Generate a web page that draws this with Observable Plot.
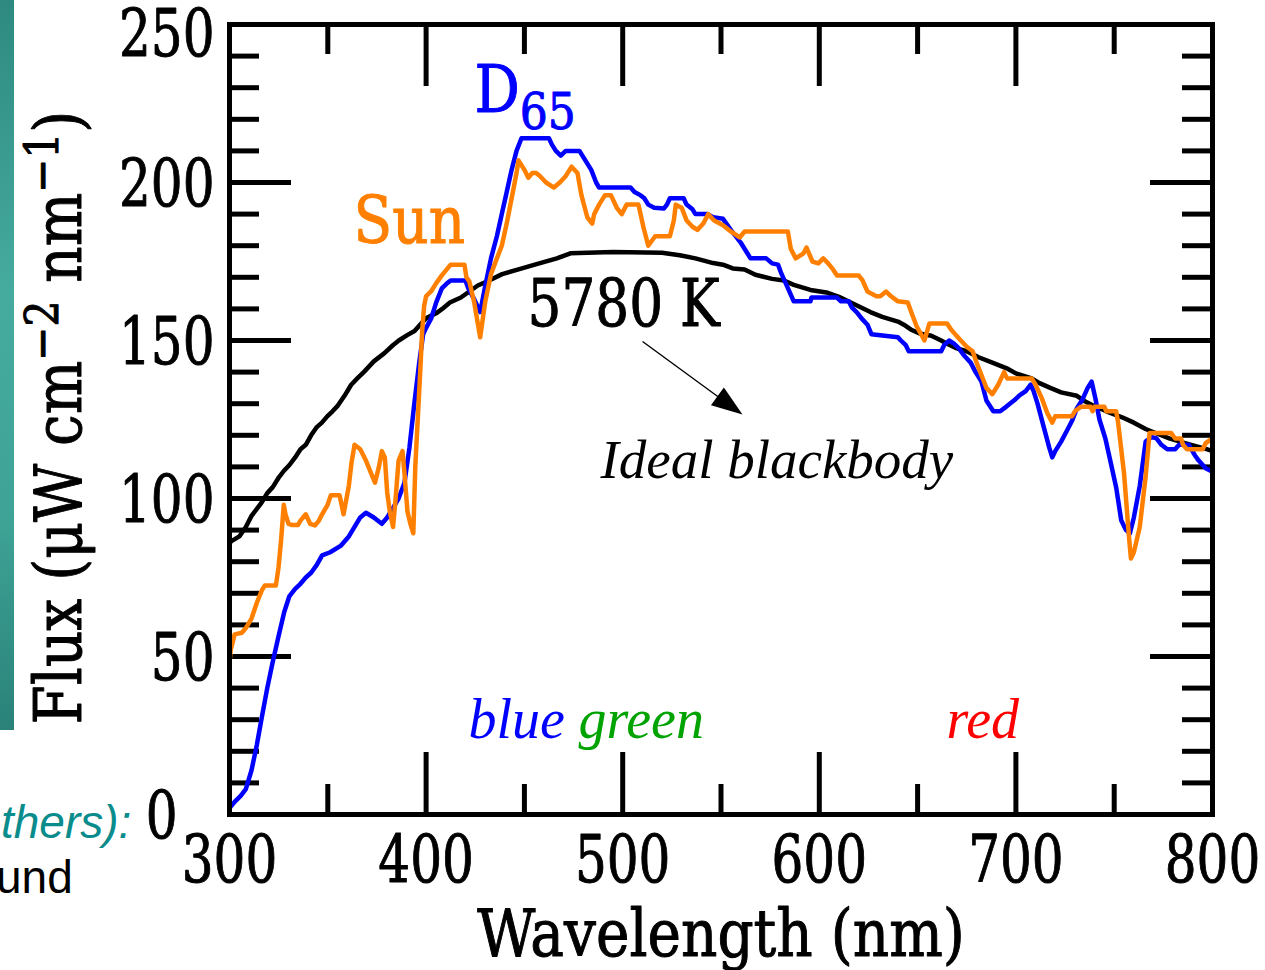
<!DOCTYPE html>
<html>
<head>
<meta charset="utf-8">
<script src="https://cdn.jsdelivr.net/npm/d3@7"></script>
<script src="https://cdn.jsdelivr.net/npm/@observablehq/plot@0.6"></script>
<style>
html, body { margin: 0; padding: 0; background: #fff; width: 1265px; height: 970px; overflow: hidden; }
#wrap { position: relative; width: 1265px; height: 970px; }
#strip { position: absolute; left: 0; top: 0; width: 14px; height: 730px; z-index: 2;
  background: linear-gradient(to bottom, #2e8a80 0%, #46ab9f 40%, #3fa497 70%, #2a8279 100%); }
.slide { position: absolute; font-family: "Liberation Sans", Arial, sans-serif; font-size: 46px;
  line-height: 1; white-space: nowrap; z-index: 2; }
#chart { position: absolute; left: 0; top: 0; }
</style>
</head>
<body>
<div id="wrap">
  <div id="chart"></div>
  <div id="strip"></div>
  <div class="slide" style="left:1px; top:799px; color:#0a8c8c; font-style:italic;">thers):</div>
  <div class="slide" style="left:-4px; top:854px; color:#000;">und</div>
</div>
<script>
// ---------------- data ----------------
const d65Wavelength = [300,302.6,305.8,308.3,311.2,313.9,316.5,319.2,321.9,324.8,327.8,330.4,333.4,336.1,338.8,341.5,344.4,347.1,351.2,356.5,360.7,363.6,366.5,369.4,373.4,377.5,380.2,383.2,386,389,391.5,394,396.5,398.5,400,402.6,405.1,408,410.5,412.5,420,421.5,424.5,427.5,430,433,436,438.5,441,443.5,446,448.5,462.5,464,466,468.5,471,478,481,484,486.5,488,504,506,509,511,513,516,521,522.5,524,531,532.5,535.5,537,543,546,551,555,560,563,565,573,576,579,580.5,583,585.5,587,595.5,596,609,611,615,616.5,619,621.5,624.5,626.5,640,641.5,644,645.5,662,663.5,666,668.5,671,674,677,679.5,682.5,685,688.5,692,695,699,702,705,707.5,709,711,714,717,718.5,720,723,726,728.5,731,734,736.5,738.5,740.5,742.5,745.5,748,751,753.6,756,758,760,763,766,769,771.5,774,777,781,783,788,791,793,796.5,800];
const d65Flux = [2,4,6,8,14,22,31,40,48,56,64,69,71.4,73,75,76.5,79,82,83,85,88,91,94,95.5,94,92,94,97,100,105,116,130,143,152,154,157,162,166.5,168,169,169,166.5,163,159,167,176,183,190,197,204,210,214,214,212,210,208.5,210,210,207,204,200,198.4,198.4,197,196,195,193,192,191.8,193,195,195,193,191.5,190,190,189,188.5,185,181,178,176,176,174.4,174,171.5,168,164.5,162.4,162.4,163.6,163.6,162.4,162.4,160.5,159,157,155,152,151,150,148.5,146.6,146.6,148.5,150,149,147.5,145,143,140,137,131,127.6,127.6,129,131,132.7,134,136,134,130,123,116,113,115,118,121.5,124.5,128.5,131.5,135,137,131.5,125,119,112,103.5,93,90,89,94,104,118,119.5,119,117,115.6,115.6,117,117,113.7,112,109.6,108.5];

const sunWavelength = [300,300.6,302.6,306.3,308.3,311.2,313.9,316.5,318,323.6,324.9,326.2,327.6,328.5,330,332,334.8,336.1,338.8,341,343.5,345.5,347.1,349.9,351.5,356,358,360.7,362,363.6,366.5,369.4,372,374,376,377.5,379,380.2,381.5,383.2,384.5,386,388,389,390.5,392,393.5,394.5,395.5,397,398,399,400,402.6,405,408,410.5,412.5,419.5,420.5,422,424.5,427.5,430,433,436,438.5,441,443.5,446,447,450,452,454,456,458,461,465,468,471,474,477,479,482,484.5,485.5,488,491,494,497,499.5,502,508,510.5,513,516.5,524,526,527,530,532.5,535.5,538,541,543.5,546.5,551,555,559.5,562,584,585.5,588,592,593.5,596.5,599.5,602,604.5,607,609,620,622,624.5,629,631,634,636.5,640,645,647,649.5,653.5,656,665,667,669.5,672,675,678,680,682.5,685,688,691,694,695.5,708,710,713,716,718.5,720,728.5,730,733,738,739,740,745,746,751,752,755,757.5,758.5,760,763,766,768,779,781,784,785,787,795,796.5,800];
const sunFlux = [48,52,57,57.5,59,62,67,71,72.5,72.5,78,86.5,98,95,92,91.6,91.6,93,95,92,91.5,93,95,98,101,101,95,104,111,117,115.6,112,108,105,110,115,113,102,96,91,100,112,115,108,96,92,89,110,122,140,153,161,164,165.6,168,170.6,172.5,174,174,170,168.7,162,151,162,171,176,180,187,195,203,207,204,201.5,203,203,202,200,198.4,200,202,205,203,196,189,187,190,193,196,196,192,190,193,193,186,180,183,183,188,193,192,188,186,185,187,190,188,186.5,184.5,182.6,184.5,184.5,179,176,177.6,179.4,175,174.4,176,174.4,172.5,170.6,170.6,169,165.5,164,164,165.5,164,162.4,162,158.6,154.5,150,155.4,155.4,153.5,151.7,150,148,146.6,143,139,135,133,136,140,138,138,136,132,127,124,126,126,127.6,129,129,127.6,129,129,127.6,127.6,124,108,88,81,83,91,107,120.7,120.7,119,119,117,115.6,115.6,117.5,119];

const bbWavelength = [300,301,305,308.3,311.2,313.9,316.4,319.2,322,324.9,327.6,330.5,333.4,336.1,338.8,341.5,344.4,347,349.7,352.4,355.1,358.5,361.9,365,368.3,373.4,378.8,383.1,386.1,390.4,394.1,399.9,405.1,408.2,412.1,417.7,422,426.3,432,438.7,447,455.3,466.5,473.4,495,520,529,537,546,551,556,562,567.5,576,582,587,595.5,603.6,610,616,621,626,632,640,643,646.5,651,657,662,665,670,675,681,688,696,700,708,712,717.5,723,731,735,739,746,754,760,766,772,778,786,797,800];
const bbFlux = [86,86.5,88,91,94.5,96.7,98.8,101.7,103.6,106.5,108.7,110.6,113,115.6,117,120,122.6,124,126,127.6,129.4,132.5,136,138,140,143.4,146,148.5,150,151.7,153,157,158.6,160,162,163.6,165.5,167.4,169,171,172.5,174,176,177.6,178,177.8,177,176,174.5,174,172.8,172.5,170.8,169.5,169,167.6,166,165.2,163.8,162,160.5,159,157.5,156,155,153.5,152.2,151.5,150,149,147.5,146.6,144.7,143,141,139.6,138,136.5,135,133.6,132.5,130.8,129.5,127.6,125.7,124,122,120.5,119,117.5,115.6,115];

const xTickLabels = [300, 400, 500, 600, 700, 800];
const xMinorTicks = [350, 450, 550, 650, 750];
const yTickLabels = [0, 50, 100, 150, 200, 250];
const yMinorTicks = [10,20,30,40,60,70,80,90,110,120,130,140,160,170,180,190,210,220,230,240];
const colorLabels = ["blue", "green", "red"];
const colorLabelWavelength = [421.6, 477.5, 664.7];
const colorLabelFill = ["#0000ff", "#00a300", "#ff0000"];

// ---------------- layout ----------------
const W = 1265, H = 970, ML = 229, MR = 53, MT = 24, MB = 156;
const innerW = W - ML - MR, innerH = H - MT - MB;
const majorLen = 62, minorLen = 30;
const DIGIT_CONDENSE = 0.77, WORD_CONDENSE = 0.87;
const pix = {fontFamily: "DejaVu Serif", fontSize: 65, fill: "black", stroke: "black", strokeWidth: 1};
const serifIt = {fontFamily: "Liberation Serif", fontStyle: "italic"};

const rows = (xs, ys) => xs.map((w, i) => ({w, f: ys[i]}));
const d65 = rows(d65Wavelength, d65Flux);
const sun = rows(sunWavelength, sunFlux);
const bb = rows(bbWavelength, bbFlux);
const colorRows = colorLabels.map((t, i) => ({t, w: colorLabelWavelength[i], c: colorLabelFill[i]}));

// filled, elongated arrow head (pointing up before rotation)
const arrowHead = {draw(ctx) { ctx.moveTo(0, -20); ctx.lineTo(11, 11); ctx.lineTo(-11, 11); ctx.closePath(); }};

const svg = Plot.plot({
  width: W, height: H,
  marginLeft: ML, marginRight: MR, marginTop: MT, marginBottom: MB,
  x: {domain: [300, 800], axis: null},
  y: {domain: [0, 250], axis: null},
  style: {background: "transparent", overflow: "visible"},
  marks: [
    // inward ticks on all four sides
    Plot.tickY(yTickLabels, {y: d => d, insetRight: innerW - majorLen, strokeWidth: 5}),
    Plot.tickY(yTickLabels, {y: d => d, insetLeft: innerW - majorLen, strokeWidth: 5}),
    Plot.tickY(yMinorTicks, {y: d => d, insetRight: innerW - minorLen, strokeWidth: 5}),
    Plot.tickY(yMinorTicks, {y: d => d, insetLeft: innerW - minorLen, strokeWidth: 5}),
    Plot.tickX(xTickLabels, {x: d => d, insetTop: innerH - majorLen, strokeWidth: 5}),
    Plot.tickX(xTickLabels, {x: d => d, insetBottom: innerH - majorLen, strokeWidth: 5}),
    Plot.tickX(xMinorTicks, {x: d => d, insetTop: innerH - minorLen, strokeWidth: 5}),
    Plot.tickX(xMinorTicks, {x: d => d, insetBottom: innerH - minorLen, strokeWidth: 5}),

    // spectra
    Plot.line(bb, {x: "w", y: "f", stroke: "black", strokeWidth: 4.5}),
    Plot.line(d65, {x: "w", y: "f", stroke: "#0000ff", strokeWidth: 4.5}),
    Plot.line(sun, {x: "w", y: "f", stroke: "#ff8000", strokeWidth: 4.5}),

    Plot.frame({strokeWidth: 5}),

    // tick labels
    Plot.text(xTickLabels, {x: d => d, text: d => String(d), frameAnchor: "bottom", dy: 47, lineAnchor: "middle", ...pix}),
    Plot.text(yTickLabels.filter(d => d > 0 && d < 250), {y: d => d, text: d => String(d), frameAnchor: "left", dx: -15, dy: 3, textAnchor: "end", lineAnchor: "middle", ...pix}),
    Plot.text(yTickLabels.filter(d => d === 250), {y: d => d, text: d => String(d), frameAnchor: "left", dx: -15, dy: 11, textAnchor: "end", lineAnchor: "middle", ...pix}),
    Plot.text(yTickLabels.filter(d => d === 0), {y: d => d, text: d => String(d), frameAnchor: "left", dx: -52, dy: 3, textAnchor: "end", lineAnchor: "middle", ...pix}),

    // axis titles
    Plot.text(["Wavelength (nm)"], {frameAnchor: "bottom", dy: 141, lineAnchor: "bottom", ...pix}),
    Plot.text(["Flux (μW cm^{−2} nm^{−1})"], {frameAnchor: "left", rotate: -90, dx: -149, dy: -2, lineAnchor: "bottom", textAnchor: "middle", ...pix}),

    // curve labels
    Plot.text(["D_{65}"], {x: 424.6, y: 222.2, textAnchor: "start", lineAnchor: "bottom", ...pix, fill: "#0000ff", stroke: "#0000ff"}),
    Plot.text(["Sun"], {x: 363.1, y: 180.7, textAnchor: "start", lineAnchor: "bottom", ...pix, fill: "#ff8000", stroke: "#ff8000"}),
    Plot.text(["5780 K"], {x: 451.6, y: 154.7, textAnchor: "start", lineAnchor: "bottom", ...pix}),

    // arrow to "Ideal blackbody"
    Plot.link([0], {x1: 510.1, y1: 149.7, x2: 552.7, y2: 130.3, stroke: "black", strokeWidth: 1.4}),
    Plot.dot([0], {x: 552.7, y: 130.3, symbol: arrowHead, rotate: 126, fill: "black", stroke: "none", r: 10}),
    Plot.text(["Ideal blackbody"], {x: 488.7, y: 106.6, textAnchor: "start", lineAnchor: "bottom", fontSize: 55, fill: "black", ...serifIt}),

    // colour names
    Plot.text(colorRows, {x: "w", y: 24.1, text: "t", fill: "c", textAnchor: "start", lineAnchor: "bottom", fontSize: 56, ...serifIt})
  ]
});

// condense the bitmap-like lettering and build super/subscripts
const SVGNS = "http://www.w3.org/2000/svg";
function richText(t, fs) {
  const s = t.textContent;
  if (!/[\^_]\{/.test(s)) return;
  const parts = s.split(/([\^_]\{[^}]*\})/).filter(p => p.length);
  t.textContent = "";
  let shift = 0;
  for (const p of parts) {
    const ts = document.createElementNS(SVGNS, "tspan");
    let target = 0, txt = p, size = null;
    if (p.startsWith("^{")) { target = -0.34 * fs; txt = p.slice(2, -1); size = 0.72 * fs; }
    else if (p.startsWith("_{")) { target = 0.25 * fs; txt = p.slice(2, -1); size = 0.78 * fs; }
    ts.setAttribute("dy", target - shift);
    shift = target;
    if (size) ts.setAttribute("font-size", size);
    ts.textContent = txt;
    t.appendChild(ts);
  }
}
svg.querySelectorAll("text").forEach(t => {
  const g = t.closest("g[font-size]");
  const fs = g ? parseFloat(g.getAttribute("font-size")) : 10;
  const fam = t.closest("g[font-family]");
  const isPix = fam && /DejaVu Serif/.test(fam.getAttribute("font-family"));
  const numeric = /^[0-9]+$/.test(t.textContent);
  const k = t.textContent === "5780 K" ? 0.82 : numeric ? DIGIT_CONDENSE : WORD_CONDENSE;
  richText(t, fs);
  if (isPix) {
    const tr = t.getAttribute("transform") || "";
    t.setAttribute("transform", tr + ` scale(${k},1)`);
  }
});

document.getElementById("chart").appendChild(svg);
</script>
</body>
</html>
